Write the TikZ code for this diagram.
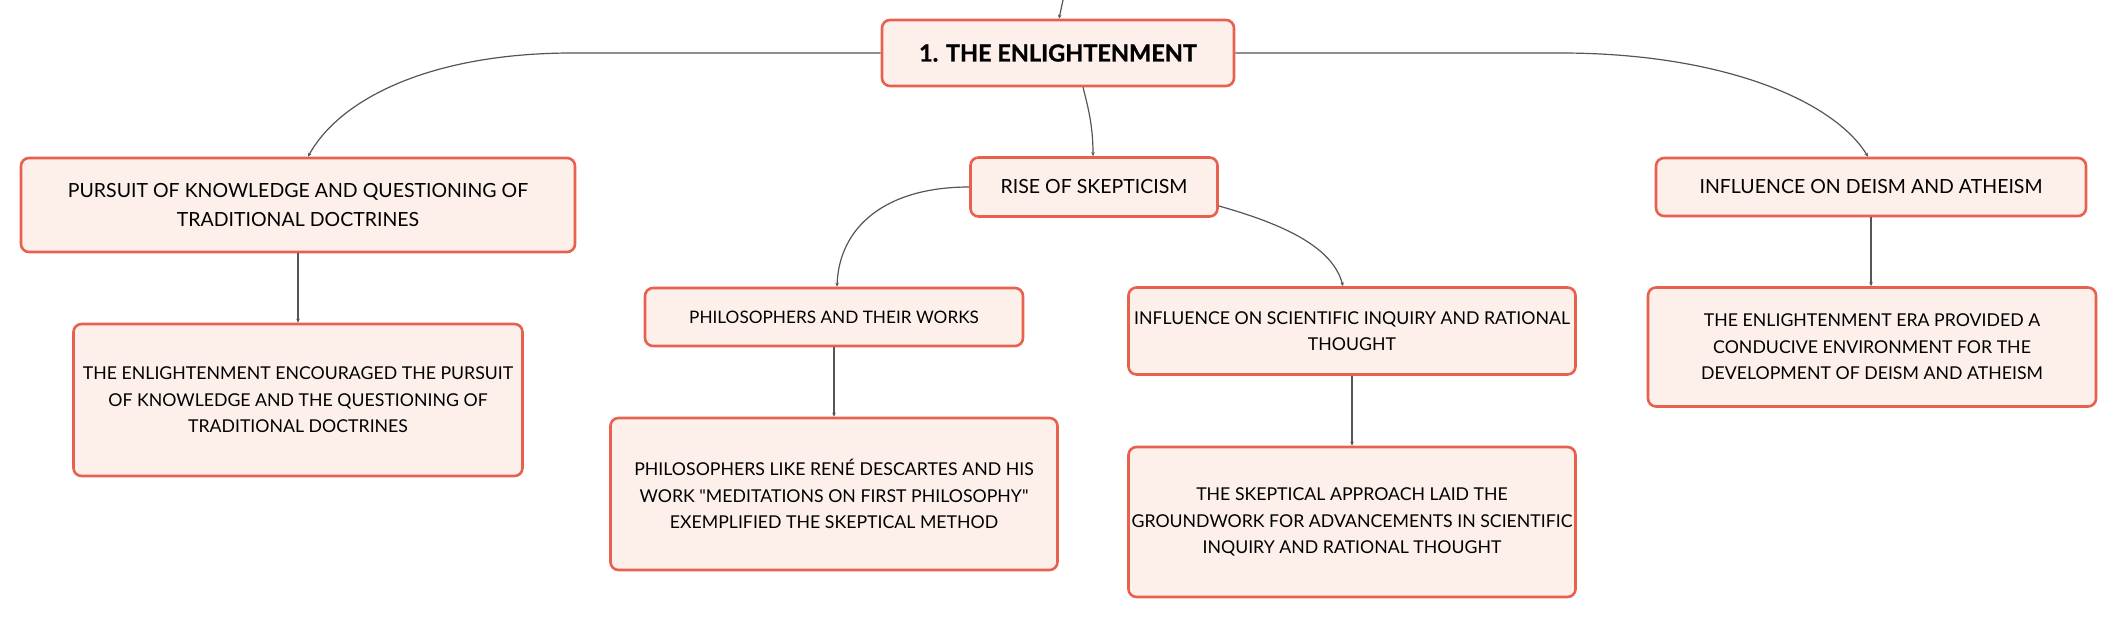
\documentclass[tikz,border=0pt]{standalone}
\usepackage{fontspec}
\setmainfont[Ligatures=TeXOff]{Lato}
\newfontfamily\rootfont[BoldFeatures={FakeBold=1.2}]{Lato}
\usetikzlibrary{arrows.meta}
\definecolor{boxline}{RGB}{232,96,78}
\definecolor{boxfill}{RGB}{253,240,235}
\definecolor{linkc}{RGB}{85,85,85}
\begin{document}
\begin{tikzpicture}[x=1pt,y=-1pt,
  box/.style={draw=boxline, line width=2.6pt, fill=boxfill, rounded corners=8pt,
    align=center, inner sep=0pt, text=black, font=\fontsize{17.7}{26.5}\selectfont},
  bigtext/.style={font=\fontsize{19.5}{29.5}\selectfont},
  link/.style={draw=linkc, line width=1.2pt, -{Stealth[length=4pt,width=3.5pt]}}]
\useasboundingbox (0,0) rectangle (2116,620);

\node[box, minimum width=352, minimum height=66, font=\fontsize{23.5}{28}\rootfont\bfseries] (root) at (1058,53) {1. THE ENLIGHTENMENT};
\node[box, bigtext, minimum width=554, minimum height=94] (pursuit) at (298,205) {PURSUIT OF KNOWLEDGE AND QUESTIONING OF\\TRADITIONAL DOCTRINES};
\node[box, minimum width=449, minimum height=152] (child1) at (298,400) {THE ENLIGHTENMENT ENCOURAGED THE PURSUIT\\OF KNOWLEDGE AND THE QUESTIONING OF\\TRADITIONAL DOCTRINES};
\node[box, bigtext, minimum width=247, minimum height=59] (rise) at (1094,187) {RISE OF SKEPTICISM};
\node[box, font=\fontsize{17.2}{26.5}\selectfont, minimum width=378, minimum height=58] (phil) at (834,317) {PHILOSOPHERS AND THEIR WORKS};
\node[box, minimum width=447, minimum height=152] (phillike) at (834,494) {PHILOSOPHERS LIKE RENÉ DESCARTES AND HIS\\WORK "MEDITATIONS ON FIRST PHILOSOPHY"\\EXEMPLIFIED THE SKEPTICAL METHOD};
\node[box, minimum width=447, minimum height=87] (infsci) at (1352,331) {INFLUENCE ON SCIENTIFIC INQUIRY AND RATIONAL\\THOUGHT};
\node[box, minimum width=447, minimum height=150] (skept) at (1352,522) {THE SKEPTICAL APPROACH LAID THE\\GROUNDWORK FOR ADVANCEMENTS IN SCIENTIFIC\\INQUIRY AND RATIONAL THOUGHT};
\node[box, bigtext, minimum width=430, minimum height=58] (deism) at (1871,187) {INFLUENCE ON DEISM AND ATHEISM};
\node[box, minimum width=448, minimum height=119] (deismchild) at (1872,347) {THE ENLIGHTENMENT ERA PROVIDED A\\CONDUCIVE ENVIRONMENT FOR THE\\DEVELOPMENT OF DEISM AND ATHEISM};

\coordinate (topin) at (1063,0);
\draw[link] (topin) -- ([xshift=1pt]root.north);
\draw[link] (root.west) -- ++(-308,0) .. controls ++(-142,0) and ([xshift=42pt,yshift=58pt]pursuit.north) .. ([xshift=10pt]pursuit.north);
\draw[link] (root.east) -- ++(325,0) .. controls ++(160,0) and ([xshift=-38pt,yshift=57pt]deism.north) .. ([xshift=-3pt]deism.north);
\draw[link] ([xshift=25pt]root.south) .. controls +(6,23) and +(0,-28) .. ([xshift=-1pt]rise.north);
\draw[link] (rise.west) .. controls +(-86,0) and +(2,-58) .. ([xshift=3pt]phil.north);
\draw[link] ([yshift=-19pt]rise.east) .. controls +(68,19) and +(-10,-38) .. ([xshift=-9pt]infsci.north);
\draw[link] (pursuit.south) -- (child1.north);
\draw[link] (phil.south) -- (phillike.north);
\draw[link] (infsci.south) -- (skept.north);
\draw[link] (deism.south) -- (deism.south |- deismchild.north);
\end{tikzpicture}
\end{document}
